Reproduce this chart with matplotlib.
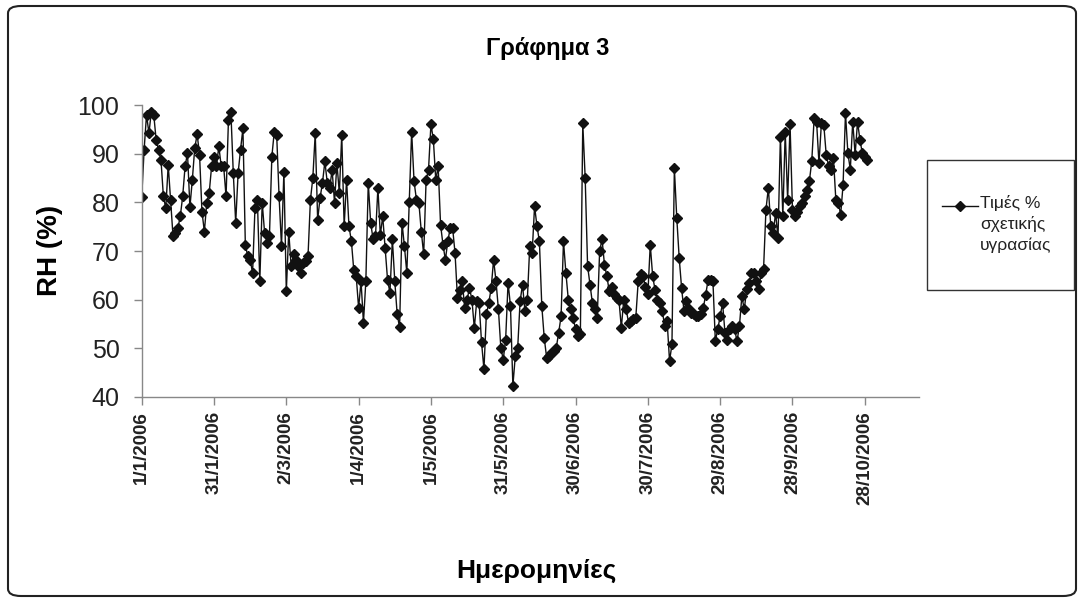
import matplotlib
matplotlib.use("Agg")
import matplotlib.pyplot as plt
from matplotlib.patches import FancyBboxPatch, Rectangle
from matplotlib.lines import Line2D
import numpy as np

plt.rcParams['font.family'] = ['Liberation Sans', 'DejaVu Sans']

# Daily relative humidity (%) 2006, by month
jan = [81, 90.8, 98, 94.2, 98.6, 98, 92.8, 90.8, 88.7, 81.2, 78.8, 87.7, 80.5, 73, 73.7,
       74.7, 77.1, 81.2, 87.4, 90.1, 79, 84.6, 91.1, 94, 89.8, 78.1, 74, 79.9, 81.9, 87.4, 89.4]
feb = [87.4, 91.5, 87.4, 87.4, 81.2, 97, 98.6, 86, 75.8, 86, 90.8, 95.2, 71.3, 68.9, 68.2,
       65.5, 78.8, 80.5, 63.8, 79.9, 73.7, 71.7, 73, 89.4, 94.5, 93.9, 81.2, 71]
mar = [86.3, 61.7, 74, 66.9, 69.3, 68.2, 66.9, 65.5, 67.6, 67.9, 68.9, 80.5, 85, 94.2, 76.4,
       80.9, 84, 88.4, 84, 82.9, 86.7, 79.9, 88, 81.9, 93.9, 75.1, 84.6, 75.1, 72, 66, 64.8]
apr = [58.3, 63.8, 55.3, 63.8, 84, 75.8, 72.4, 73, 83, 73.3, 77.1, 70.6, 64.1, 61.4, 72.4,
       63.8, 57, 54.3, 75.8, 71, 65.5, 80, 94.5, 84.3, 80.5, 79.9, 74, 69.3, 84.6, 86.7]
may = [96, 93, 84.6, 87.4, 75.4, 71.3, 68.2, 72, 74.7, 74.7, 69.6, 60.4, 62, 63.8, 58.3,
       60, 62.4, 60, 54.2, 59.7, 59.3, 51.2, 45.7, 57, 59.3, 62.4, 68.2, 63.8, 58, 50.1, 47.7]
jun = [51.8, 63.5, 58.7, 42.3, 48.4, 50.1, 59.7, 63.1, 57.7, 60, 71, 69.6, 79.2, 75.1, 72,
       58.7, 52.2, 48.1, 48.4, 49, 49.5, 50.1, 53.2, 56.6, 72, 65.5, 60, 58, 56.3, 53.9]
jul = [52.5, 53, 96.2, 85, 66.9, 63.1, 59.3, 58, 56.3, 70, 72.4, 67.2, 64.8, 61.7, 62.7,
       61.1, 60.4, 60, 54.2, 60, 58, 55.3, 55.6, 56, 56.3, 63.8, 65.2, 64.8, 62.7, 61.1, 71.3]
aug = [64.8, 62, 60, 59.3, 57.6, 54.6, 55.6, 47.4, 50.8, 87, 76.8, 68.6, 62.4, 57.6, 59.7,
       58, 57.3, 57, 56.6, 56.6, 57, 58.3, 61, 64.1, 64.1, 63.8, 51.5, 53.9, 56.6, 59.3, 53.2]
sep = [51.8, 53.9, 54.6, 53.9, 51.5, 54.6, 60.7, 58, 62.1, 63.5, 65.5, 65.5, 63.8, 62.1, 65.5,
       66.2, 78.5, 83, 75.1, 73.7, 77.8, 72.7, 93.5, 77.1, 94.5, 80.5, 96, 78.5, 77.1, 78]
octo = [79.2, 79.9, 81.2, 82.6, 84.3, 88.4, 97.3, 96.6, 88, 96.2, 95.9, 89.8, 87.4, 86.7, 89.1,
        80.5, 79.9, 77.5, 83.6, 98.3, 90.1, 86.7, 96.6, 89.8, 96.6, 92.8, 90.1, 89.4, 88.7]

rh = jan + feb + mar + apr + may + jun + jul + aug + sep + octo
days = np.arange(len(rh))

tick_days = [0, 30, 60, 90, 120, 150, 180, 210, 240, 270, 300]
tick_labels = ['1/1/2006', '31/1/2006', '2/3/2006', '1/4/2006', '1/5/2006', '31/5/2006',
               '30/6/2006', '30/7/2006', '29/8/2006', '28/9/2006', '28/10/2006']
y_ticks = [40, 50, 60, 70, 80, 90, 100]

title = 'Γράφημα 3'
xlabel = 'Ημερομηνίες'
ylabel = 'RH (%)'
series_name = 'Τιμές %\nσχετικής\nυγρασίας'

W, H = 1084, 602
fig = plt.figure(figsize=(W / 100, H / 100), dpi=100)
fig.patch.set_facecolor('white')

ax = fig.add_axes([141.7 / W, 1 - 397 / H, (919 - 141.7) / W, (397 - 105) / H])
ax.plot(days, rh, color='#111111', lw=1.0, marker='D', markersize=5.2,
        markerfacecolor='#111111', markeredgecolor='#111111')

ax.set_xlim(0, 322.5)
ax.set_ylim(40, 100)
ax.set_yticks(y_ticks)
ax.set_yticklabels([str(v) for v in y_ticks], fontsize=18, color='#222222')
ax.set_xticks(tick_days)
ax.set_xticklabels(tick_labels, rotation=90, fontsize=13.5, fontweight='bold', color='#222222')

for s in ['top', 'right']:
    ax.spines[s].set_visible(False)
for s in ['left', 'bottom']:
    ax.spines[s].set_color('#888888')
    ax.spines[s].set_linewidth(1.0)
ax.tick_params(axis='both', direction='out', length=6, color='#888888', width=1.0)
ax.tick_params(axis='y', pad=10)
ax.tick_params(axis='x', pad=4)

fig.text(548 / W, 1 - 48 / H, title, ha='center', va='center', fontsize=17, fontweight='bold')
fig.text(50 / W, 1 - 250 / H, ylabel, ha='center', va='center', rotation=90,
         fontsize=20, fontweight='bold')
fig.text(536 / W, 1 - 571 / H, xlabel, ha='center', va='center', fontsize=19, fontweight='bold')

# legend box
fig.patches.append(Rectangle((927 / W, 1 - 290 / H), (1074 - 927) / W, (290 - 160) / H,
                             transform=fig.transFigure, fill=False, edgecolor='#333333', lw=1.0))
fig.lines.append(Line2D([942 / W, 978 / W], [1 - 206 / H, 1 - 206 / H], transform=fig.transFigure,
                        color='#111111', lw=1.0))
fig.lines.append(Line2D([960 / W], [1 - 206 / H], transform=fig.transFigure, marker='D',
                        markersize=5.2, color='#111111', lw=0))
fig.text(980 / W, 1 - 195 / H, series_name, ha='left', va='top', fontsize=12.5,
         linespacing=1.4, color='#222222')

# outer rounded border
fig.patches.append(FancyBboxPatch((8 / W, 6 / H), (1076 - 8) / W, (596 - 6) / H,
                                  boxstyle='round,pad=0,rounding_size=0.012',
                                  transform=fig.transFigure, fill=False,
                                  edgecolor='#222222', lw=1.5))

fig.savefig('out.png', dpi=100, facecolor='white')
